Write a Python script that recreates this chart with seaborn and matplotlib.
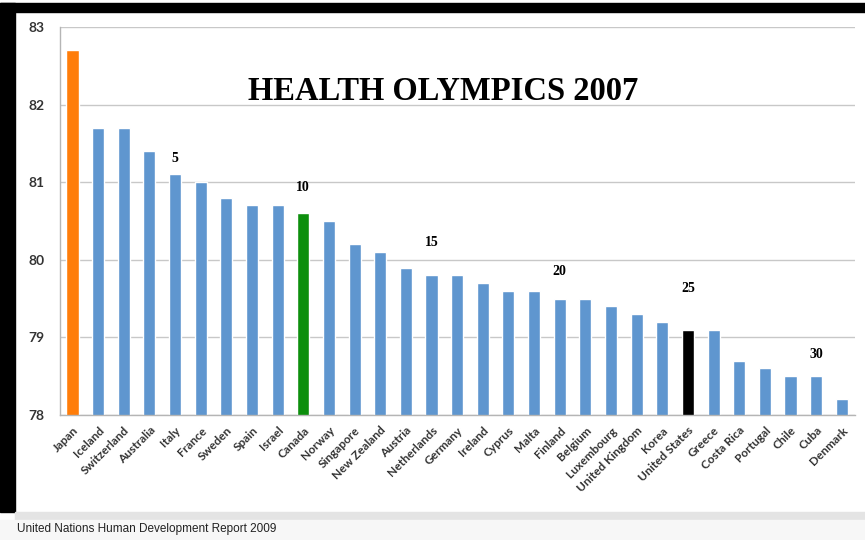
import matplotlib.pyplot as plt
import seaborn as sns
from matplotlib.patches import Rectangle

countries = ['Japan', 'Iceland', 'Switzerland', 'Australia', 'Italy', 'France', 'Sweden',
             'Spain', 'Israel', 'Canada', 'Norway', 'Singapore', 'New Zealand', 'Austria',
             'Netherlands', 'Germany', 'Ireland', 'Cyprus', 'Malta', 'Finland', 'Belgium',
             'Luxembourg', 'United Kingdom', 'Korea', 'United States', 'Greece',
             'Costa Rica', 'Portugal', 'Chile', 'Cuba', 'Denmark']
life_expectancy = [82.7, 81.7, 81.7, 81.4, 81.1, 81.0, 80.8, 80.7, 80.7, 80.6, 80.5,
                   80.2, 80.1, 79.9, 79.8, 79.8, 79.7, 79.6, 79.6, 79.5, 79.5, 79.4,
                   79.3, 79.2, 79.1, 79.1, 78.7, 78.6, 78.5, 78.5, 78.2]
rank_marks = [5, 10, 15, 20, 25, 30]
highlight = {'Japan': '#ff7d0a', 'Canada': '#0d8f0d', 'United States': '#000000'}
y_ticks = [78, 79, 80, 81, 82, 83]

blue = '#5f96cf'
palette = [highlight.get(c, blue) for c in countries]

sns.set_style('white')
fig = plt.figure(figsize=(8.65, 5.4), dpi=100)
ax = fig.add_axes([0.069, 0.2315, 0.919, 0.7185])

sns.barplot(x=countries, y=life_expectancy, hue=countries, palette=palette,
            legend=False, width=0.47, saturation=1, ax=ax)

ax.set_ylim(78, 83)
ax.set_xlim(-0.5, len(countries) - 0.5)
ax.set_yticks(y_ticks)
ax.set_yticklabels([str(t) for t in y_ticks], fontsize=10, fontweight='bold',
                   color='#333333', family='Lato')
ax.tick_params(axis='y', length=0, pad=11)
ax.set_xticks(range(len(countries)))
ax.set_xticklabels(countries, rotation=45, ha='right', rotation_mode='anchor',
                   fontsize=8.6, fontweight='bold', color='#333333', family='Lato')
ax.tick_params(axis='x', length=0, pad=7)
ax.set_xticks([i - 0.5 for i in range(len(countries) + 1)], minor=True)
ax.tick_params(axis='x', which='minor', length=5, color='#aaaaaa', direction='out')
ax.yaxis.grid(True, color='#c8c8c8', linewidth=1)
ax.set_axisbelow(True)
for side in ['top', 'right']:
    ax.spines[side].set_visible(False)
for side in ['left', 'bottom']:
    ax.spines[side].set_color('#b5b5b5')
    ax.spines[side].set_linewidth(1)
ax.set_xlabel('')
ax.set_ylabel('')

# rank labels above every fifth country
offsets = [7, 14, 19, 15, 25, 11]
for rank, off in zip(rank_marks, offsets):
    i = rank - 1
    ax.annotate(str(rank), (i, life_expectancy[i]), xytext=(0, off),
                textcoords='offset points', ha='center', va='bottom', color='black',
                fontsize=10, fontweight='bold', family='Liberation Serif')

ax.text(0.482, 0.835, 'HEALTH OLYMPICS 2007', transform=ax.transAxes, ha='center',
        va='center', fontsize=23.5, fontweight='bold', color='black',
        family='Liberation Serif')

# frame and footer
fig.patches.append(Rectangle((0, 1 - 12 / 540), 1, 9 / 540, transform=fig.transFigure,
                             color='black', zorder=0))
fig.patches.append(Rectangle((0, 1 - 512 / 540), 15 / 865, 509 / 540,
                             transform=fig.transFigure, color='black', zorder=0))
fig.patches.append(Rectangle((15 / 865, 1 - 520 / 540), 1, 8 / 540,
                             transform=fig.transFigure, color='#e4e4e4', zorder=0))
fig.patches.append(Rectangle((0, 0), 1, 20 / 540, transform=fig.transFigure,
                             color='#f7f7f7', zorder=0))
fig.text(17 / 865, 1 - 529 / 540, 'United Nations Human Development Report 2009',
         ha='left', va='center', fontsize=8.5, color='#222222', family='Liberation Sans')

plt.savefig('out.png', dpi=100)
plt.close()
